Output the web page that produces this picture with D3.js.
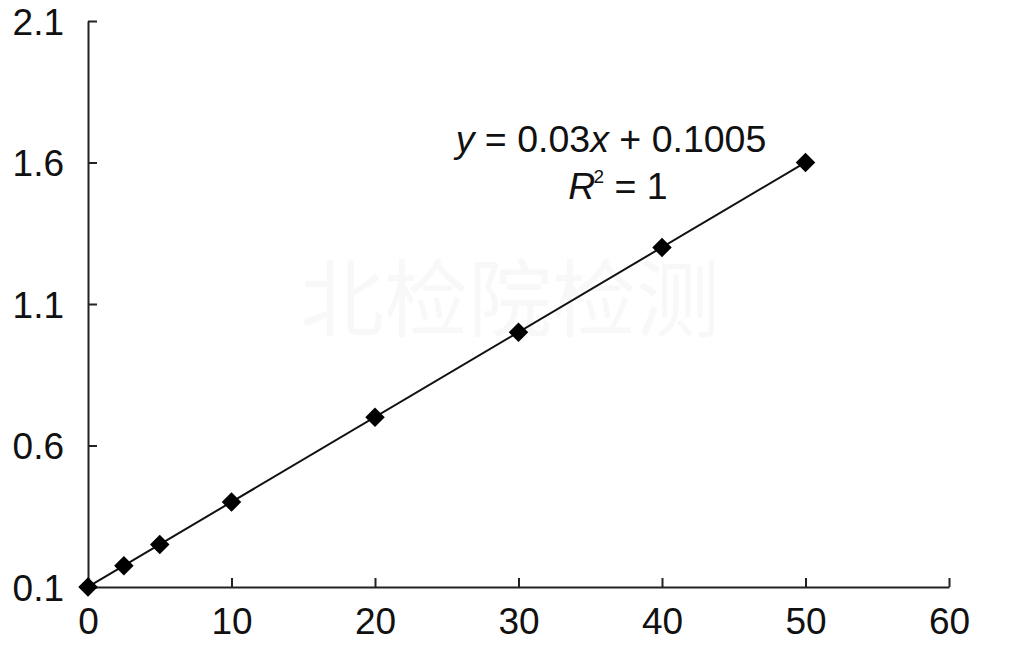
<!DOCTYPE html>
<html>
<head>
<meta charset="utf-8">
<script src="https://cdn.jsdelivr.net/npm/d3@7"></script>
<style>
  body { margin: 0; background: #fff; }
  text { font-family: "Liberation Sans", Arial, sans-serif; }
</style>
</head>
<body>
<script>
"use strict";

/* Data */
var concentrations = [0, 2.5, 5, 10, 20, 30, 40, 50];
var absorbances = [0.1, 0.175, 0.25, 0.4, 0.7, 1.0, 1.3, 1.6];
var xTicks = [0, 10, 20, 30, 40, 50, 60];
var yTicks = [0.1, 0.6, 1.1, 1.6, 2.1];
var slope = 0.03, intercept = 0.1005;

var width = 1021, height = 649;

var svg = d3.select("body").append("svg")
  .attr("width", width)
  .attr("height", height);

// scales
var x = d3.scaleLinear().domain([0, 60]).range([88, 949]);
var y = d3.scaleLinear().domain([0.1, 2.1]).range([587, 21]);

// very faint watermark
svg.append("text")
  .attr("x", 510).attr("y", 330)
  .attr("text-anchor", "middle")
  .attr("font-size", 84)
  .attr("fill", "#f8f8f8")
  .style("font-family", "'Noto Sans CJK SC', sans-serif")
  .text("北检院检测");

// axes, ticks point inward
var xAxis = d3.axisBottom(x)
  .tickValues(xTicks)
  .tickSizeInner(-9)
  .tickSizeOuter(0)
  .tickPadding(21)
  .tickFormat(d3.format("d"));

var yAxis = d3.axisLeft(y)
  .tickValues(yTicks)
  .tickSizeInner(-9)
  .tickSizeOuter(0)
  .tickPadding(24)
  .tickFormat(d3.format(".1f"));

var gx = svg.append("g")
  .attr("transform", "translate(0," + y(0.1) + ")")
  .call(xAxis);
var gy = svg.append("g")
  .attr("transform", "translate(" + x(0) + ",0)")
  .call(yAxis);

[gx, gy].forEach(function(g) {
  g.selectAll("path, line").attr("stroke", "#222").attr("stroke-width", 2);
  g.selectAll("text")
    .attr("fill", "#111")
    .attr("font-size", 37)
    .style("font-family", "'Liberation Sans', Arial, sans-serif");
});
gy.selectAll("text").attr("dy", "0.36em");

// regression line
var fitLine = d3.line()
  .x(function(d) { return x(d); })
  .y(function(d) { return y(slope * d + intercept); });
svg.append("path")
  .datum([concentrations[0], concentrations[concentrations.length - 1]])
  .attr("d", fitLine)
  .attr("fill", "none")
  .attr("stroke", "#111")
  .attr("stroke-width", 2);

// diamond markers
var diamond = d3.symbol().type(d3.symbolSquare).size(190);
svg.append("g").selectAll("path")
  .data(concentrations)
  .enter().append("path")
  .attr("d", diamond)
  .attr("transform", function(d, i) {
    return "translate(" + x(d) + "," + y(absorbances[i]) + ") rotate(45)";
  })
  .attr("fill", "#000");

// equation
var eq = svg.append("text")
  .attr("x", 611).attr("y", 152)
  .attr("text-anchor", "middle")
  .attr("font-size", 37.5)
  .attr("fill", "#111");
eq.append("tspan").attr("font-style", "italic").text("y");
eq.append("tspan").text(" = 0.03");
eq.append("tspan").attr("font-style", "italic").text("x");
eq.append("tspan").text(" + 0.1005");

var r2 = svg.append("text")
  .attr("x", 618).attr("y", 199)
  .attr("text-anchor", "middle")
  .attr("font-size", 37.5)
  .attr("fill", "#111");
r2.append("tspan").attr("font-style", "italic").text("R");
r2.append("tspan").attr("font-size", 19).attr("dy", -16).attr("dx", -2).text("2");
r2.append("tspan").attr("dy", 16).text(" = 1");
</script>
</body>
</html>
